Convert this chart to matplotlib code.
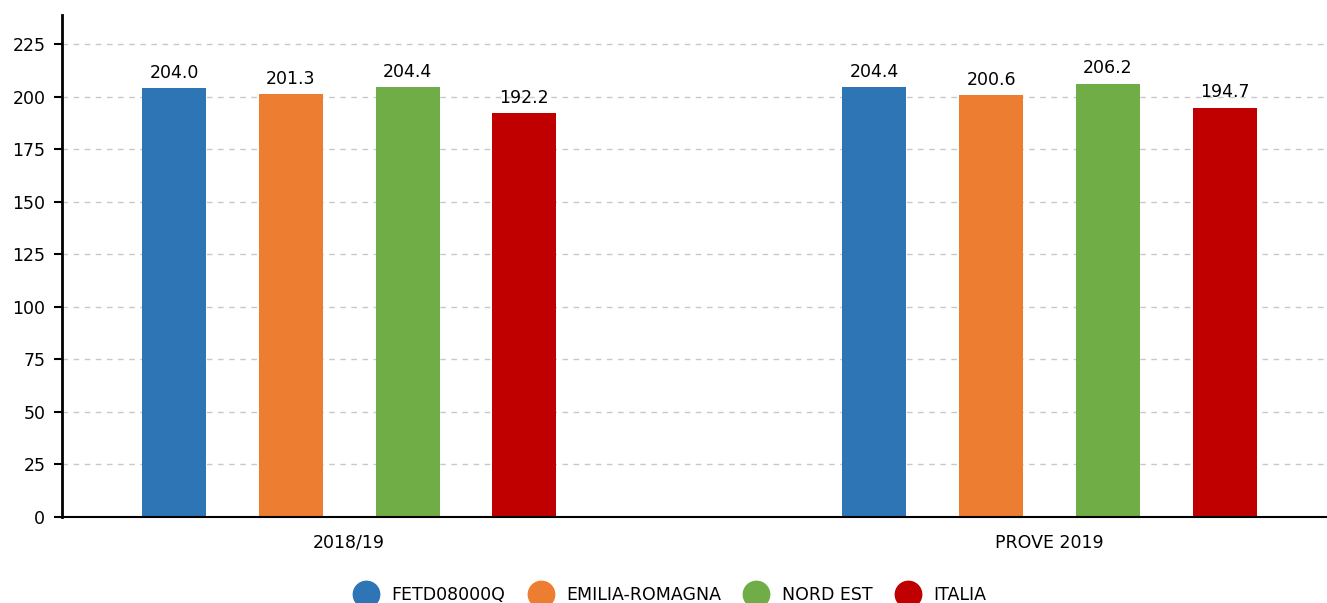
import matplotlib.pyplot as plt
import numpy as np
from matplotlib.lines import Line2D

categories = ["2018/19", "PROVE 2019"]
series = ["FETD08000Q", "EMILIA-ROMAGNA", "NORD EST", "ITALIA"]
values = [
    [204.0, 204.4],
    [201.3, 200.6],
    [204.4, 206.2],
    [192.2, 194.7],
]
colors = ["#2e75b6", "#ed7d31", "#70ad47", "#c00000"]
yticks = [0, 25, 50, 75, 100, 125, 150, 175, 200, 225]

fig = plt.figure(figsize=(13.27, 6.03), dpi=100)
ax = fig.add_axes([62 / 1327, 86 / 603, 1265 / 1327, 502 / 603])

x = np.arange(len(categories))
width = 0.0914
step = 0.1667
for i, (name, vals) in enumerate(zip(series, values)):
    pos = x + (i - 1.5) * step
    ax.bar(pos, vals, width, color=colors[i], label=name, zorder=3)
    for p, v in zip(pos, vals):
        ax.text(p, v + 3, f"{v:.1f}", ha="center", va="bottom", fontsize=12.5)

ax.set_xlim(-0.41, 1.396)
ax.set_ylim(0, 238.8)
ax.set_yticks(yticks)
ax.set_xticks(x)
ax.set_xticklabels(categories)
ax.tick_params(axis="y", length=6, width=1.5, labelsize=12.5, pad=6)
ax.tick_params(axis="x", length=0, labelsize=12.5, pad=12)
ax.yaxis.grid(True, linestyle=(0, (4, 4)), color="#c8c8c8", linewidth=1, zorder=0)
for s in ["top", "right"]:
    ax.spines[s].set_visible(False)
ax.spines["left"].set_linewidth(2)
ax.spines["bottom"].set_linewidth(1.5)
ax.spines["bottom"].set_zorder(4)

# legend with round markers
handles = [Line2D([], [], marker="o", linestyle="", markersize=19, color=c) for c in colors]
ax.legend(handles, series, loc="center", bbox_to_anchor=(0.482, -0.155), ncol=4,
          frameon=False, fontsize=12.5, handlelength=1.0, columnspacing=1.55,
          handletextpad=0.95)

fig.savefig("out.png", dpi=100)
